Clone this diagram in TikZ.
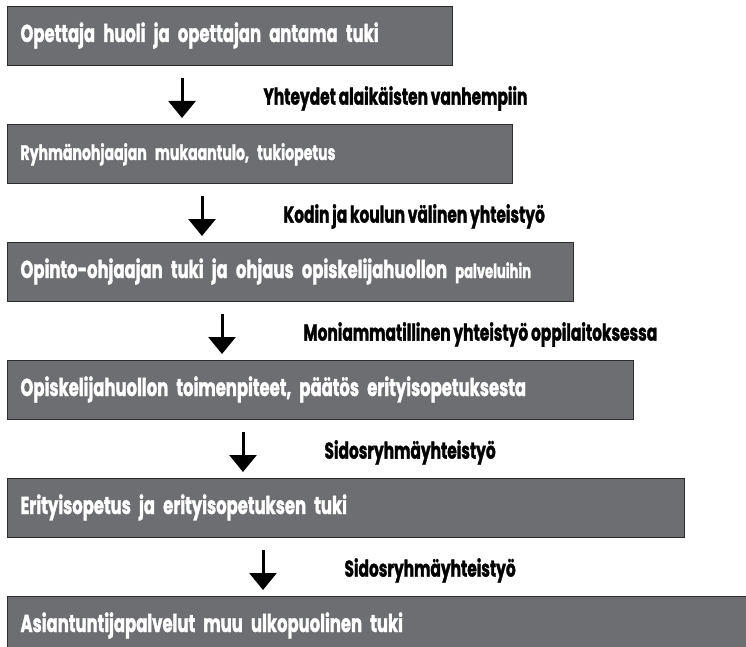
\documentclass[tikz,border=0pt]{standalone}
\usepackage{fontspec}
\setmainfont{Poppins}[FakeStretch=0.67, WordSpace=0.85, BoldFeatures={FakeBold=1.3}]
\usetikzlibrary{positioning, arrows.meta}
\definecolor{boxGray}{RGB}{109,110,113}
\definecolor{boxLine}{RGB}{45,45,45}
\tikzstyle{slate} = [rectangle, minimum height=59pt, anchor=north west, inner xsep=13pt, text height=17pt, text depth=5pt, draw=boxLine, line width=1pt, fill=boxGray, text=white, font=\bfseries\fontsize{24.5}{28}\selectfont]
\tikzstyle{linkText} = [inner sep=0pt, font=\bfseries\fontsize{23}{27}\selectfont]
\tikzstyle{arrow} = [line width=3pt, -{Triangle[width=27pt,length=17pt]}, shorten <=12pt, shorten >=6pt]

\begin{document}
\begin{tikzpicture}[x=1pt, y=1pt]

\useasboundingbox (0,0) rectangle (746,-647);
\clip (0,0) rectangle (746,-647);

% Boxes - staircase, every step 60pt wider
\node[draw, align=left] (opettaja) [slate, text width=419pt] at (7,-6) {Opettaja huoli ja opettajan antama tuki};
\node[draw, align=left] (ryhma) [slate, text width=479pt, below=58pt of opettaja.south west, anchor=north west] {\fontsize{21}{25}\selectfont Ryhmänohjaajan mukaantulo, tukiopetus};
\node[draw, align=left] (opinto) [slate, text width=540pt, below=58pt of ryhma.south west, anchor=north west] {Opinto-ohjaajan tuki ja ohjaus opiskelijahuollon {\fontsize{19.5}{22}\selectfont palveluihin}};
\node[draw, align=left] (huolto) [slate, text width=600pt, below=58pt of opinto.south west, anchor=north west] {Opiskelijahuollon toimenpiteet, päätös erityisopetuksesta};
\node[draw, align=left] (erityis) [slate, text width=651pt, below=58pt of huolto.south west, anchor=north west] {Erityisopetus ja erityisopetuksen tuki};
\node[draw, align=left] (asiantuntija) [slate, text width=740pt, below=58pt of erityis.south west, anchor=north west] {Asiantuntijapalvelut muu ulkopuolinen tuki};

% Arrows with their texts
\draw [arrow] ([xshift=175pt]opettaja.south west) -- node[linkText, pos=0.56, right=80pt] (yhteydet) {Yhteydet alaikäisten vanhempiin} ([xshift=175pt]ryhma.north west);
\draw [arrow] ([xshift=195pt]ryhma.south west) -- node[linkText, pos=0.56, right=80pt] (kodin) {Kodin ja koulun välinen yhteistyö} ([xshift=195pt]opinto.north west);
\draw [arrow] ([xshift=215pt]opinto.south west) -- node[linkText, pos=0.56, right=80pt] (moniamm) {Moniammatillinen yhteistyö oppilaitoksessa} ([xshift=215pt]huolto.north west);
\draw [arrow] ([xshift=236pt]huolto.south west) -- node[linkText, pos=0.56, right=80pt] (sidosA) {Sidosryhmäyhteistyö} ([xshift=236pt]erityis.north west);
\draw [arrow] ([xshift=256pt]erityis.south west) -- node[linkText, pos=0.56, right=80pt] (sidosB) {Sidosryhmäyhteistyö} ([xshift=256pt]asiantuntija.north west);

\end{tikzpicture}
\end{document}
